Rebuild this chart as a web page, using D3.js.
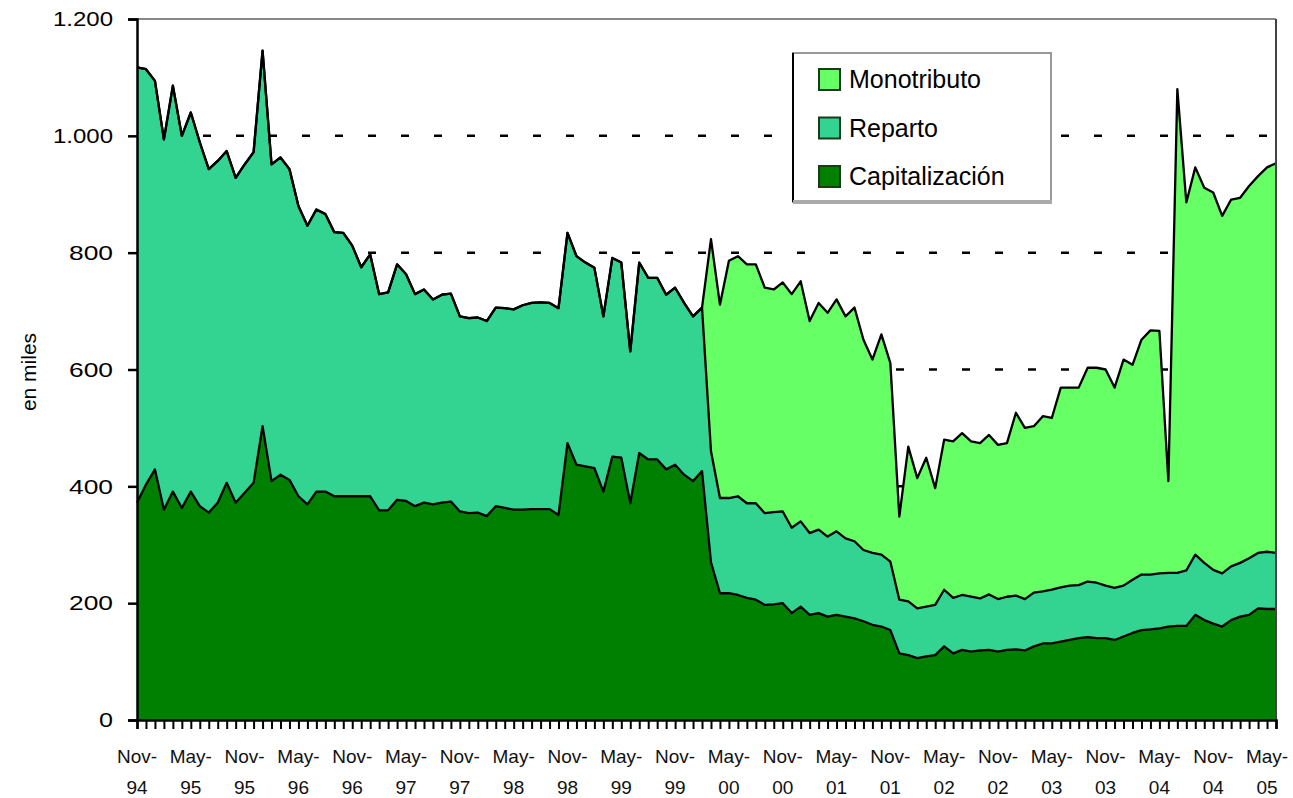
<!DOCTYPE html>
<html>
<head>
<meta charset="utf-8">
<script src="https://cdn.jsdelivr.net/npm/d3@7"></script>
<style>
  body { margin: 0; background: #fff; }
  svg { display: block; }
</style>
</head>
<body>
<svg id="chart" width="1293" height="798"></svg>
<script>
// monthly values, Nov-94 .. Jun-05 (thousands)
const capitalizacion = [
  372, 403, 429, 360, 391, 363, 391, 366, 355, 372, 406, 372, 389, 406, 503, 409,
  420, 411, 383, 369, 391, 391, 383, 383, 383, 383, 383, 359, 359, 377, 375, 366,
  372, 369, 372, 374, 357, 354, 355, 349, 366, 363, 360, 360, 361, 361, 361, 351,
  474, 437, 434, 431, 391, 451, 449, 371, 457, 446, 446, 429, 437, 420, 409, 426,
  270, 217, 217, 214, 209, 206, 197, 198, 200, 183, 194, 180, 183, 177, 180, 177,
  174, 169, 163, 160, 154, 114, 111, 106, 109, 111, 126, 114, 120, 117, 119, 120,
  117, 120, 121, 119, 126, 131, 131, 134, 137, 140, 142, 140, 140, 137, 143, 149,
  154, 155, 157, 160, 161, 161, 180, 171, 165, 160, 171, 177, 180, 191, 190, 190
];
const reparto = [
  745, 711, 665, 634, 695, 637, 649, 623, 588, 585, 568, 556, 562, 566, 643, 542,
  543, 532, 497, 477, 483, 475, 452, 451, 429, 392, 414, 370, 373, 403, 388, 363,
  365, 351, 356, 356, 334, 334, 334, 334, 340, 342, 343, 350, 353, 354, 353, 354,
  360, 357, 349, 343, 300, 340, 334, 260, 326, 311, 311, 299, 303, 294, 282, 280,
  190, 163, 163, 169, 162, 165, 157, 158, 157, 146, 146, 140, 143, 137, 143, 134,
  132, 122, 123, 123, 117, 92, 92, 85, 85, 86, 97, 95, 94, 94, 89, 95,
  90, 91, 92, 88, 92, 89, 92, 93, 93, 91, 95, 95, 90, 89, 87, 91,
  95, 94, 94, 92, 91, 95, 103, 98, 92, 91, 92, 92, 97, 95, 98, 96
];
const monotributo = [
  0, 0, 0, 0, 0, 0, 0, 0, 0, 0, 0, 0, 0, 0, 0, 0,
  0, 0, 0, 0, 0, 0, 0, 0, 0, 0, 0, 0, 0, 0, 0, 0,
  0, 0, 0, 0, 0, 0, 0, 0, 0, 0, 0, 0, 0, 0, 0, 0,
  0, 0, 0, 0, 0, 0, 0, 0, 0, 0, 0, 0, 0, 0, 0, 0,
  363, 331, 406, 411, 409, 409, 386, 381, 392, 400, 411, 363, 388, 383, 397, 380,
  400, 360, 331, 377, 340, 142, 265, 223, 255, 200, 257, 268, 277, 266, 266, 273,
  264, 263, 313, 293, 285, 300, 294, 342, 339, 338, 366, 368, 370, 343, 387, 368,
  402, 418, 415, 157, 828, 630, 663, 642, 646, 612, 628, 625, 637, 645, 658, 667
];
const tickLabels = [
  "Nov-94", "May-95", "Nov-95", "May-96", "Nov-96", "May-97", "Nov-97", "May-98",
  "Nov-98", "May-99", "Nov-99", "May-00", "Nov-00", "May-01", "Nov-01", "May-02",
  "Nov-02", "May-03", "Nov-03", "May-04", "Nov-04", "May-05"
];
const yTicks = [0, 200, 400, 600, 800, 1000, 1200];
const keys = ["capitalizacion", "reparto", "monotributo"];
const names = {capitalizacion: "Capitalización", reparto: "Reparto", monotributo: "Monotributo"};
const colors = {capitalizacion: "#008000", reparto: "#33d391", monotributo: "#66ff66"};

const svg = d3.select("#chart");
const plotLeft = 137, plotRight = 1276, plotTop = 19, plotBottom = 720;
const font = "Liberation Sans, Arial, sans-serif";

let table = capitalizacion.map((c, i) => ({
  i: i, capitalizacion: c, reparto: reparto[i], monotributo: monotributo[i]
}));
let series = d3.stack().keys(keys)(table);

let x = d3.scaleLinear().domain([0, table.length - 1]).range([plotLeft, plotRight]);
let y = d3.scaleLinear().domain([0, 1200]).range([plotBottom, plotTop]);

let fmt = d3.formatLocale({decimal: ",", thousands: ".", grouping: [3], currency: ["$", ""]}).format(",d");

// dashed grid behind the areas
svg.append("g")
  .selectAll("line")
  .data(yTicks.filter(d => d > 0 && d < 1200))
  .join("line")
  .attr("x1", plotLeft).attr("x2", plotRight)
  .attr("y1", d => y(d)).attr("y2", d => y(d))
  .attr("stroke", "#000")
  .attr("stroke-width", 2.5)
  .attr("stroke-dasharray", "8,25");

let area = d3.area()
  .x(d => x(d.data.i))
  .y0(d => y(d[0]))
  .y1(d => y(d[1]));

let line = d3.line()
  .x(d => x(d.data.i))
  .y(d => y(d[1]));

svg.append("g")
  .selectAll("path")
  .data(series)
  .join("path")
  .attr("fill", d => colors[d.key])
  .attr("d", area);

svg.append("g")
  .selectAll("path")
  .data(series)
  .join("path")
  .attr("fill", "none")
  .attr("stroke", "#000")
  .attr("stroke-width", 2.3)
  .attr("stroke-linejoin", "round")
  .attr("d", line);

// plot frame: top and right
svg.append("line")
  .attr("x1", plotLeft).attr("x2", plotRight).attr("y1", plotTop).attr("y2", plotTop)
  .attr("stroke", "#888").attr("stroke-width", 2);
svg.append("line")
  .attr("x1", plotRight).attr("x2", plotRight).attr("y1", plotTop).attr("y2", plotBottom)
  .attr("stroke", "#444").attr("stroke-width", 2);

// y axis
let yAxis = svg.append("g")
  .attr("transform", `translate(${plotLeft},0)`)
  .call(d3.axisLeft(y).tickValues(yTicks).tickSize(9).tickPadding(15).tickFormat(fmt));
yAxis.select(".domain").attr("stroke", "#000").attr("stroke-width", 2.5);
yAxis.selectAll(".tick line").attr("stroke", "#000").attr("stroke-width", 2.5);
yAxis.selectAll(".tick text")
  .attr("font-family", font)
  .attr("font-size", 21)
  .attr("textLength", d => d >= 1000 ? 60 : (d === 0 ? 14 : 44))
  .attr("lengthAdjust", "spacingAndGlyphs")
  .attr("fill", "#000");

// x axis, one tick per month
let xAxis = svg.append("g")
  .attr("transform", `translate(0,${plotBottom})`)
  .call(d3.axisBottom(x).tickValues(d3.range(table.length)).tickSize(9).tickFormat(""));
xAxis.select(".domain").attr("stroke", "#000").attr("stroke-width", 2.5);
xAxis.selectAll(".tick line").attr("stroke", "#000").attr("stroke-width", 2);

let xlab = svg.append("g")
  .attr("font-family", font)
  .attr("font-size", 19)
  .attr("fill", "#111")
  .attr("text-anchor", "middle")
  .selectAll("text")
  .data(tickLabels)
  .join("text")
  .attr("x", (d, k) => x(k * 6));
xlab.append("tspan").attr("y", 763).text(d => d.split("-")[0] + "-");
xlab.append("tspan").attr("x", (d, k) => x(k * 6)).attr("y", 794).text(d => d.split("-")[1]);

svg.append("text")
  .attr("transform", "translate(36,372) rotate(-90)")
  .attr("text-anchor", "middle")
  .attr("font-family", font)
  .attr("font-size", 21)
  .attr("fill", "#000")
  .text("en miles");

// legend
let legend = svg.append("g");
legend.append("rect")
  .attr("x", 793).attr("y", 53).attr("width", 258).attr("height", 149)
  .attr("fill", "#fff").attr("stroke", "#999").attr("stroke-width", 2);
legend.append("line")
  .attr("x1", 793).attr("x2", 793).attr("y1", 53).attr("y2", 202)
  .attr("stroke", "#000").attr("stroke-width", 2);
legend.append("line")
  .attr("x1", 793).attr("x2", 1052).attr("y1", 202).attr("y2", 202)
  .attr("stroke", "#aaa").attr("stroke-width", 4);

let items = legend.selectAll("g")
  .data(keys.slice().reverse())
  .join("g")
  .attr("transform", (d, k) => `translate(819,${69 + k * 48.5})`);
items.append("rect")
  .attr("width", 21).attr("height", 21)
  .attr("fill", d => colors[d])
  .attr("stroke", "#1a3a1a").attr("stroke-width", 2);
items.append("text")
  .attr("x", 30).attr("y", 19)
  .attr("font-family", font)
  .attr("font-size", 25)
  .attr("fill", "#000")
  .text(d => names[d]);
</script>
</body>
</html>
